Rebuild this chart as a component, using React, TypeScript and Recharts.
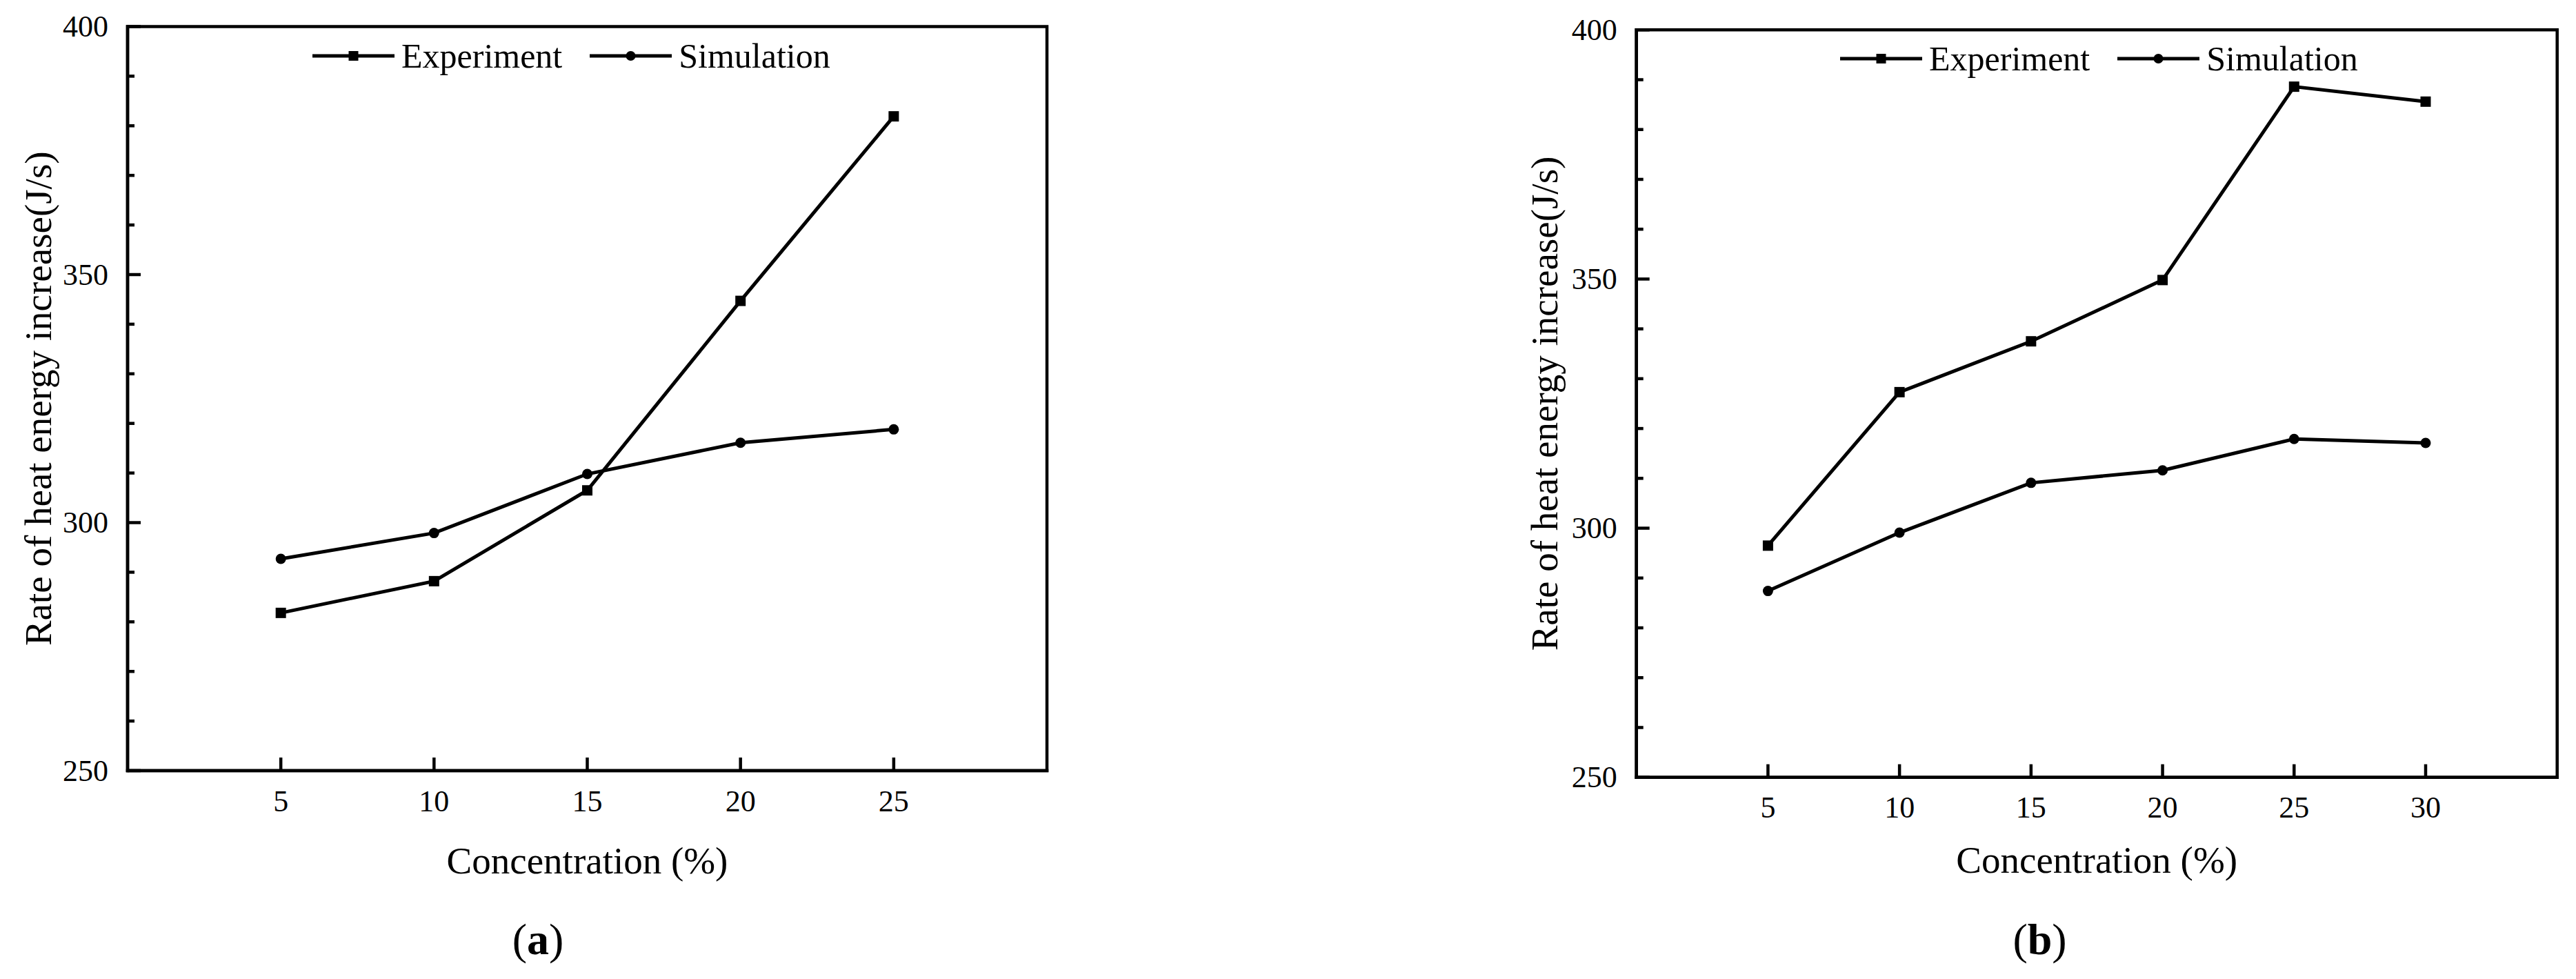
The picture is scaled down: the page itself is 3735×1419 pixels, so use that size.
import React from "react";
import { LineChart, Line, XAxis, YAxis, Legend, ReferenceArea } from "recharts";

// panel (a)
const concentrationA = [5, 10, 15, 20, 25];
const experimentA = [281.8, 288.2, 306.5, 344.7, 381.9];
const simulationA = [292.7, 297.9, 309.8, 316.1, 318.8];

// panel (b)
const concentrationB = [5, 10, 15, 20, 25, 30];
const experimentB = [296.5, 327.3, 337.5, 349.8, 388.6, 385.6];
const simulationB = [287.4, 299.1, 309.1, 311.6, 317.9, 317.1];

const yTicks = [250, 260, 270, 280, 290, 300, 310, 320, 330, 340, 350, 360, 370, 380, 390, 400];
const yLabelTicks = [250, 300, 350, 400];
const yMin = 250;
const yMax = 400;

const FONT = "'Liberation Serif', 'Times New Roman', serif";
const Y_TICK_MARGIN = 28;
const X_TICK_MARGIN = 44;

const toRows = (xs: number[], exp: number[], sim: number[]) =>
  xs.map((x, i) => ({ x, experiment: exp[i], simulation: sim[i] }));

function YTick(props: any) {
  const { x, y, payload } = props;
  const axisX = x + Y_TICK_MARGIN;
  const major = yLabelTicks.includes(payload.value);
  return (
    <g>
      <line x1={axisX} x2={axisX + (major ? 19 : 10)} y1={y} y2={y} stroke="#000" strokeWidth={4.5} />
      {major && (
        <text x={x} y={y} textAnchor="end" dominantBaseline="central" fontSize={44} fontFamily={FONT} fill="#000">
          {payload.value}
        </text>
      )}
    </g>
  );
}

function XTick(props: any) {
  const { x, y, payload } = props;
  const axisY = y - X_TICK_MARGIN;
  return (
    <g>
      <line x1={x} x2={x} y1={axisY} y2={axisY - 19} stroke="#000" strokeWidth={4.5} />
      <text x={x} y={y} textAnchor="middle" dominantBaseline="central" fontSize={44} fontFamily={FONT} fill="#000">
        {payload.value}
      </text>
    </g>
  );
}

function SquareDot(props: any) {
  const { cx, cy } = props;
  if (cx == null || cy == null) return null;
  return <rect x={cx - 7.5} y={cy - 7.5} width={15} height={15} fill="#000" />;
}

function LegendContent(props: any) {
  const payload = props.payload || [];
  return (
    <div style={{ display: "flex", alignItems: "center", fontFamily: FONT, fontSize: 50, lineHeight: "60px", whiteSpace: "nowrap", color: "#000" }}>
      {payload.map((entry: any, i: number) => (
        <div key={entry.value} style={{ display: "flex", alignItems: "center", marginRight: i === 0 ? 40 : 0 }}>
          <svg width={119} height={20}>
            <line x1={0} x2={119} y1={10} y2={10} stroke="#000" strokeWidth={5} />
            {entry.type === "square" ? (
              <rect x={52.5} y={3} width={14} height={14} fill="#000" />
            ) : (
              <circle cx={59.5} cy={10} r={7} fill="#000" />
            )}
          </svg>
          <span style={{ marginLeft: 10 }}>{entry.value}</span>
        </div>
      ))}
    </div>
  );
}

type PanelProps = {
  left: number;
  width: number;
  marginTop: number;
  marginRight: number;
  yAxisWidth: number;
  xAxisHeight: number;
  xMax: number;
  xTicks: number[];
  data: { x: number; experiment: number; simulation: number }[];
  legendLeft: number;
  yTitleX: number;
  xTitleDy: number;
  caption: string;
};

const frame = { stroke: "#000", strokeWidth: 4.5, strokeLinecap: "square" as const };

function Panel(p: PanelProps) {
  const height = 1419;
  return (
    <div style={{ position: "absolute", left: p.left, top: 0, width: p.width, height }}>
      <LineChart width={p.width} height={height} data={p.data} margin={{ top: p.marginTop, right: p.marginRight, left: 0, bottom: 0 }}>
        <XAxis
          dataKey="x"
          type="number"
          domain={[0, p.xMax]}
          ticks={p.xTicks}
          height={p.xAxisHeight}
          axisLine={frame}
          tickLine={false}
          tickSize={0}
          tickMargin={X_TICK_MARGIN}
          tick={XTick}
          interval={0}
          label={{
            content: (lp: any) => {
              const vb = lp.viewBox;
              return (
                <text x={vb.x + vb.width / 2} y={vb.y + p.xTitleDy} textAnchor="middle" dominantBaseline="central" fontSize={55} fontFamily={FONT} fill="#000">
                  Concentration (%)
                </text>
              );
            },
          }}
        />
        <YAxis
          type="number"
          domain={[yMin, yMax]}
          ticks={yTicks}
          width={p.yAxisWidth}
          axisLine={frame}
          tickLine={false}
          tickSize={0}
          tickMargin={Y_TICK_MARGIN}
          tick={YTick}
          interval={0}
          label={{
            content: (lp: any) => {
              const vb = lp.viewBox;
              const tx = vb.x + p.yTitleX;
              const ty = vb.y + vb.height / 2;
              return (
                <text x={tx} y={ty} transform={`rotate(-90, ${tx}, ${ty})`} textAnchor="middle" dominantBaseline="central" fontSize={55} fontFamily={FONT} fill="#000">
                  Rate of heat energy increase(J/s)
                </text>
              );
            },
          }}
        />
        {/* plot frame (top and right edges) */}
        <ReferenceArea
          x1={0}
          x2={p.xMax}
          y1={yMin}
          y2={yMax}
          fill="none"
          fillOpacity={0}
          stroke="#000"
          strokeWidth={4.5}
          strokeOpacity={1}
          ifOverflow="visible"
        />
        <Legend
          layout="vertical"
          align="center"
          verticalAlign="middle"
          content={LegendContent}
          wrapperStyle={{ left: p.legendLeft, top: p.marginTop + 12, width: "auto" }}
        />
        <Line
          dataKey="experiment"
          name="Experiment"
          stroke="#000"
          strokeWidth={5}
          dot={SquareDot}
          legendType="square"
          isAnimationActive={false}
        />
        <Line
          dataKey="simulation"
          name="Simulation"
          stroke="#000"
          strokeWidth={5}
          dot={{ r: 7.5, fill: "#000", stroke: "#000", strokeWidth: 0 }}
          legendType="circle"
          isAnimationActive={false}
        />
      </LineChart>
      <div style={{ position: "absolute", left: 0, top: 1326, width: p.width, textAlign: "center", fontFamily: FONT, fontSize: 64, lineHeight: "72px", color: "#000" }}>
        (<b>{p.caption}</b>)
      </div>
    </div>
  );
}

export default function App() {
  return (
    <div style={{ position: "relative", width: 3735, height: 1419, background: "#fff", overflow: "hidden" }}>
      <style>{"body{margin:0;background:#fff}"}</style>
      <Panel
        left={0}
        width={1560}
        marginTop={38.5}
        marginRight={42}
        yAxisWidth={185}
        xAxisHeight={302}
        xMax={30}
        xTicks={concentrationA}
        data={toRows(concentrationA, experimentA, simulationA)}
        legendLeft={453}
        yTitleX={55}
        xTitleDy={130}
        caption="a"
      />
      <Panel
        left={2180}
        width={1555}
        marginTop={43.3}
        marginRight={27.3}
        yAxisWidth={192.7}
        xAxisHeight={292.3}
        xMax={35}
        xTicks={concentrationB}
        data={toRows(concentrationB, experimentB, simulationB)}
        legendLeft={488}
        yTitleX={59}
        xTitleDy={120}
        caption="b"
      />
    </div>
  );
}
